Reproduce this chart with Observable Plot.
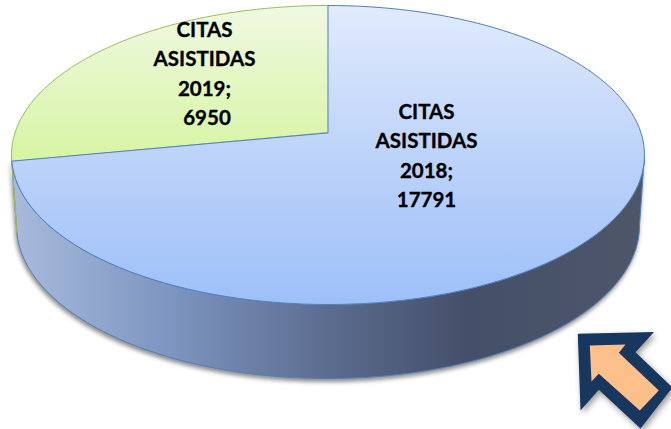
<!DOCTYPE html>
<html>
<head>
<meta charset="utf-8">
<script src="https://cdn.jsdelivr.net/npm/d3@7"></script>
<script src="https://cdn.jsdelivr.net/npm/@observablehq/plot@0.6"></script>
<style>
  html, body { margin: 0; padding: 0; background: #fff; overflow: hidden; }
  svg { display: block; }
</style>
</head>
<body>
<script>
// ---- data ----
const years = ["2018", "2019"];
const values = [17791, 6950];
const labelHead = ["CITAS", "ASISTIDAS"];

// ---- styles and layout ----
const W = 671, H = 429;
const topGradients = {
  blue: [[0, "#e1ebfc"], [0.5, "#bdd3fa"], [1, "#9dc0f9"]],
  green: [[0, "#f0f9e2"], [1, "#d6f5a2"]]
};
const sideStops = [[0, "#a8bbdc"], [0.25, "#7d95c0"], [0.5, "#5c6c8f"], [0.72, "#444f69"], [1, "#4e5669"]];
const topDisc = {cx: 327.5, top: 5, bottom: 304, center: 132, rx: 316.5};
const baseDisc = {cx: 327.5, top: 72, bottom: 378, center: 202, rx: 311.5};
const labelPos = [[426, 153], [204, 71]];
const arrowOuter = [[577.3, 333.3], [653.5, 331.5], [635, 351.7], [672, 387], [640, 428], [598.3, 389.3], [580, 410]];
const arrowInner = [[589.3, 345], [625, 344], [618.3, 352.3], [658.3, 390], [639.3, 410], [598.3, 373.3], [591, 381]];

// ---- pie geometry: each disc is a circle seen in perspective ----
function projector(d) {
  const c = (d.top + d.bottom - 2 * d.center) / (d.bottom - d.top);
  const a = d.top * (1 + c) - d.center;
  const R = d.rx * Math.sqrt(1 - c * c);
  const fn = (theta) => {
    const u = Math.sin(theta), v = Math.cos(theta), w = 1 + c * v;
    return {x: d.cx + R * u / w, y: (a * v + d.center) / w};
  };
  fn.c = c;
  fn.hub = {x: d.cx, y: d.center};
  return fn;
}
const topP = projector(topDisc), baseP = projector(baseDisc);
const arcs = d3.pie().sort(null).startAngle(0).endAngle(2 * Math.PI)(values);
const arc = (p, a0, a1) => d3.range(121).map(i => p(a0 + (a1 - a0) * i / 120));
const rightEdge = Math.acos(-topP.c);
const leftEdge = 2 * Math.PI - rightEdge;
const split = arcs[0].endAngle;

const sector = (s) => [topP.hub, ...arc(topP, s.startAngle, s.endAngle)];
const wall = (a0, a1) => [...arc(topP, a0, a1), ...arc(baseP, a1, a0)];

const polygon = (pts, fill, stroke, extra = {}) =>
  Plot.line(pts, {x: "x", y: "y", curve: "linear-closed", fill, stroke, strokeWidth: 1, ...extra});
const asPts = (arr) => arr.map(([x, y]) => ({x, y}));

// gradients defined once inside the plot's svg
function defs() {
  const d = d3.create("svg:defs");
  const add = (id, stops, horizontal) => {
    const g = d.append("svg:linearGradient").attr("id", id)
      .attr("x1", 0).attr("y1", 0).attr("x2", horizontal ? 1 : 0).attr("y2", horizontal ? 0 : 1);
    for (const [o, c] of stops) g.append("svg:stop").attr("offset", o).attr("stop-color", c);
  };
  add("gBlue", topGradients.blue, false);
  add("gGreen", topGradients.green, false);
  add("gSide", sideStops, true);
  return d.node();
}

const shadow = "drop-shadow(-1px 3px 2px rgba(0,0,0,0.45))";
const textRows = values.map((v, i) => ({
  x: labelPos[i][0], y: labelPos[i][1],
  text: `${labelHead[0]}\n${labelHead[1]}\n${years[i]};\n${i === 1 ? "\u00a0" : ""}${v}`
}));

const chart = Plot.plot({
  width: W, height: H,
  margin: 0,
  x: {domain: [0, W], range: [0, W], axis: null},
  y: {domain: [0, H], range: [0, H], axis: null},
  style: {background: "transparent"},
  marks: [
    defs,
    // side walls
    polygon(wall(rightEdge, split), "url(#gSide)", "#4f81bd", {imageFilter: shadow}),
    polygon(wall(split, leftEdge), "#c6e38a", "#9bbb59"),
    // top face
    polygon(sector(arcs[1]), "url(#gGreen)", "#9bbb59"),
    polygon(sector(arcs[0]), "url(#gBlue)", "#4f81bd"),
    // labels
    Plot.text(textRows, {
      x: "x", y: "y", text: "text",
      fontFamily: "Lato, Carlito, sans-serif", fontWeight: 700, fontSize: 20.5,
      lineHeight: 1.43, fill: "#000", stroke: "#000", strokeWidth: 0.35, textAnchor: "middle"
    }),
    // callout arrow
    polygon(asPts(arrowOuter), "#17375e", "none", {imageFilter: "drop-shadow(2px 3px 3px rgba(0,0,0,0.4))"}),
    polygon(asPts(arrowInner), "#fdc08a", "none")
  ]
});
document.body.appendChild(chart);
</script>
</body>
</html>
